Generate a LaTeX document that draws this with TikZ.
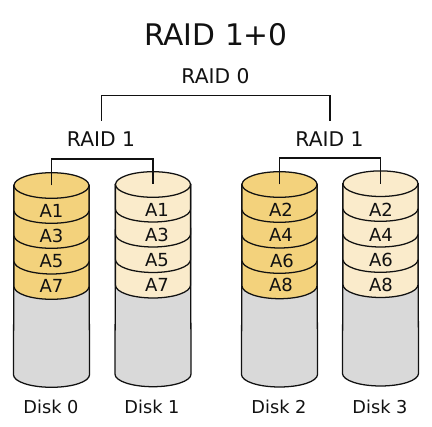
\documentclass[tikz,border=0pt]{standalone}
\usepackage{fontspec}
\setmainfont{DejaVu Sans}
\definecolor{dkgold}{HTML}{F3D27C}
\definecolor{ltgold}{HTML}{FAEBCB}
\definecolor{dkgrey}{HTML}{D9D9D9}
\definecolor{inkc}{HTML}{111111}
\tikzset{
  x=0.75pt,y=-0.75pt,
  edge/.style={draw=inkc,line width=0.95pt},
  wire/.style={draw=inkc,line width=0.9pt},
  titletxt/.style={inner sep=0,font=\fontsize{22.3}{24}\selectfont,text=inkc},
  raidtxt/.style={inner sep=0,font=\fontsize{15.2}{18}\selectfont,text=inkc},
  disktxt/.style={inner sep=0,font=\fontsize{13.3}{15}\selectfont,text=inkc},
  slicetxt/.style={inner sep=0,font=\fontsize{13.5}{15}\selectfont,text=inkc}
}
% #1 centre x, #2 top-ellipse centre y, #3 fill, #4 name,
% #5-#8 lowest points of the four layers, #9 lowest point of the grey body
\newcommand{\diskstack}[9]{%
  \def\cx{#1}\def\cy{#2}\def\fc{#3}%
  \pgfmathsetmacro{\lx}{\cx-37.5}\pgfmathsetmacro{\rx}{\cx+37.5}%
  \path[fill=dkgrey,edge] (\lx,\cy) -- (\lx-0.5,#9-12.5) arc[start angle=180,end angle=360,x radius=38,y radius=-12.5] -- (\rx,\cy) -- cycle;
  \foreach \b in {#8,#7,#6,#5}{%
    \pgfmathsetmacro{\ty}{\b-12.8}%
    \path[fill=\fc,edge] (\lx,\cy) -- (\lx,\ty) arc[start angle=180,end angle=360,x radius=37.5,y radius=-12.8] -- (\rx,\cy) -- cycle;
  }%
  \path[fill=\fc,edge] (\cx,\cy) ellipse[x radius=37.5,y radius=12.8];
  \coordinate (#4) at (\cx,\cy);
}
\begin{document}
\begin{tikzpicture}
\useasboundingbox (0,0) rectangle (432,427);
\path[fill=white] (0,0) rectangle (432,427);

\diskstack{51.5}{185.5}{dkgold}{d0}{223.3}{248.3}{274}{299.3}{387.3}
\diskstack{153}{184.5}{ltgold}{d1}{222}{247}{272.5}{298}{386.7}
\diskstack{279.5}{184.5}{dkgold}{d2}{222.3}{248}{273.3}{298.7}{387}
\diskstack{380.5}{183.7}{ltgold}{d3}{221.3}{247}{272.3}{297.5}{386}

\node[titletxt] (title) at (216,35) {RAID 1+0};
\node[raidtxt] (r0) at (215.5,76) {RAID 0};
\node[raidtxt] (r1a) at (101,139.5) {RAID 1};
\node[raidtxt] (r1b) at (329.5,139.5) {RAID 1};

\coordinate (e1) at (101.7,121);
\coordinate (e2) at (330,121);
\coordinate (t0) at (0,95.7);
\draw[wire] (e1) -- (e1 |- t0) -- (e2 |- t0) -- (e2);
\coordinate (t1) at (0,159);
\draw[wire] (d0) -- (d0 |- t1) -- (d1 |- t1) -- (d1);
\coordinate (t2) at (0,158);
\draw[wire] (d2) -- (d2 |- t2) -- (d3 |- t2) -- (d3);

\foreach \nm/\x/\y/\t in {a1/51.5/210.5/A1,a3/51.5/236/A3,a5/51.5/261/A5,a7/51.5/286/A7,
  b1/157/209.5/A1,b3/157/235/A3,b5/157/260/A5,b7/157/285/A7,
  c2/281/209.5/A2,c4/281/235/A4,c6/282/261/A6,c8/281/285/A8,
  f2/381/209.5/A2,f4/381/235/A4,f6/381/260/A6,f8/381/285/A8}
  \node[slicetxt] (\nm) at (\x,\y) {\t};

\node[disktxt] (l0) at (51,407) {Disk 0};
\node[disktxt] (l1) at (152,407) {Disk 1};
\node[disktxt] (l2) at (279,407) {Disk 2};
\node[disktxt] (l3) at (380,407) {Disk 3};
\end{tikzpicture}
\end{document}
